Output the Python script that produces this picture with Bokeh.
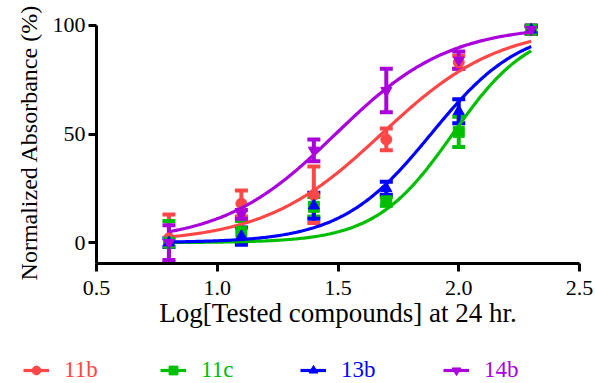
import numpy as np
from bokeh.plotting import figure
from bokeh.layouts import column
from bokeh.models import (ColumnDataSource, Whisker, TeeHead, Legend, LegendItem,
                          Range1d, FixedTicker, NumeralTickFormatter)
from bokeh.embed import file_html
from bokeh.resources import INLINE

# ---- data ----
log_conc = [0.8, 1.1, 1.4, 1.7, 2.0, 2.3]

names = ["11b", "11c", "13b", "14b"]
mean_11b = [2, 18, 22, 47.5, 83, 98]
err_11b = [11, 6, 13, 5, 3, 1.5]
mean_11c = [0, 5, 16.5, 19, 51, 98]
err_11c = [10, 5, 4.5, 2, 7, 2]
mean_13b = [0, 3, 17, 25, 60.5, 98]
err_13b = [2, 4, 6, 3, 5.5, 1.5]
mean_14b = [0, 13, 42.5, 70, 84, 98]
err_14b = [8, 2, 5, 10, 4, 2]

# fitted four-parameter logistic curves: bottom, top, logEC50, hill slope
fit_bottom = [0, 0, 0, 0]
fit_top = [100, 100, 100, 100]
fit_logec50 = [1.68, 1.975, 1.885, 1.49]
fit_hill = [1.78, 2.7, 2.33, 1.85]

x_ticks = [0.5, 1.0, 1.5, 2.0, 2.5]
y_ticks = [0, 50, 100]

# ---- styles ----
colors = ["#FF4747", "#00BE00", "#0000FF", "#AA00DC"]
markers = ["circle", "square", "triangle", "inverted_triangle"]
msizes = [11, 11, 11, 11]
FONT = "Liberation Serif"

means = [mean_11b, mean_11c, mean_13b, mean_14b]
errs = [err_11b, err_11c, err_13b, err_14b]

p = figure(width=595, height=330, output_backend="svg", toolbar_location=None,
           x_range=Range1d(0.5, 2.5), y_range=Range1d(-9.6, 101.8),
           min_border_left=96, min_border_right=16, min_border_top=21,
           min_border_bottom=65)
p.outline_line_color = None
p.xgrid.visible = False
p.ygrid.visible = False

for ax in (p.xaxis[0], p.yaxis[0]):
    ax.axis_line_width = 3
    ax.axis_line_color = "black"
    ax.major_tick_line_width = 3
    ax.major_tick_line_color = "black"
    ax.major_tick_out = 8
    ax.major_tick_in = 0
    ax.minor_tick_line_color = None
    ax.major_label_text_font = FONT
    ax.major_label_text_font_size = "22px"
    ax.major_label_text_color = "black"
    ax.axis_label_text_font = FONT
    ax.axis_label_text_font_style = "normal"
    ax.axis_label_text_color = "black"

p.xaxis[0].ticker = FixedTicker(ticks=x_ticks)
p.xaxis[0].formatter = NumeralTickFormatter(format="0.0")
p.xaxis[0].bounds = (0.5, 2.5)
p.xaxis[0].axis_label = "Log[Tested compounds] at 24 hr."
p.xaxis[0].axis_label_text_font_size = "27px"
p.xaxis[0].axis_label_standoff = 0
p.xaxis[0].major_label_standoff = 9

p.yaxis[0].ticker = FixedTicker(ticks=y_ticks)
p.yaxis[0].bounds = (-9.6, 100)
p.yaxis[0].axis_label = "Normalized Absorbance (%)"
p.yaxis[0].axis_label_text_font_size = "24px"
p.yaxis[0].axis_label_standoff = 8
p.yaxis[0].major_label_standoff = 3

# legend strip below the chart; its frame spans the full width
p2 = figure(width=595, height=53, output_backend="svg", toolbar_location=None,
            x_range=Range1d(0, 595), y_range=Range1d(0, 53),
            x_axis_type=None, y_axis_type=None,
            min_border_left=0, min_border_right=0, min_border_top=0,
            min_border_bottom=0)
p2.grid.visible = False
p2.outline_line_color = None
for fig in (p, p2):
    if "frame_align" in fig.properties():
        fig.frame_align = False

xs_fit = np.linspace(log_conc[0], log_conc[-1], 200)
legend_x = [23, 160, 300, 443]

for i, name in enumerate(names):
    c = colors[i]
    b, t, ec, h = fit_bottom[i], fit_top[i], fit_logec50[i], fit_hill[i]
    ys_fit = b + (t - b) / (1 + 10 ** ((ec - xs_fit) * h))
    p.line(xs_fit, ys_fit, line_color=c, line_width=3.2)

    src = ColumnDataSource(dict(
        x=log_conc, y=means[i],
        upper=[m + e for m, e in zip(means[i], errs[i])],
        lower=[m - e for m, e in zip(means[i], errs[i])]))
    wh = Whisker(source=src, base="x", upper="upper", lower="lower",
                 line_color=c, line_width=4,
                 upper_head=TeeHead(size=13, line_color=c, line_width=4),
                 lower_head=TeeHead(size=13, line_color=c, line_width=4))
    p.add_layout(wh)
    p.scatter("x", "y", source=src, marker=markers[i], size=msizes[i],
              fill_color=c, line_color=c)

    # legend-only renderers styled like the series (no visible data)
    lr = p2.line(x=[float("nan")], y=[float("nan")], line_color=c, line_width=3.2)
    sr = p2.scatter(x=[float("nan")], y=[float("nan")], marker=markers[i],
                    size=msizes[i], fill_color=c, line_color=c)
    leg = Legend(items=[LegendItem(label=name, renderers=[lr, sr])],
                 location=(legend_x[i], 0),
                 orientation="horizontal", padding=0, margin=0,
                 border_line_color=None, background_fill_alpha=0,
                 glyph_width=26, glyph_height=22, label_standoff=15,
                 label_text_font=FONT, label_text_font_size="23px",
                 label_text_color=c, label_height=22)
    p2.add_layout(leg, "center")

layout = column(p, p2, spacing=0)
open("out.html", "w").write(file_html(layout, INLINE))
